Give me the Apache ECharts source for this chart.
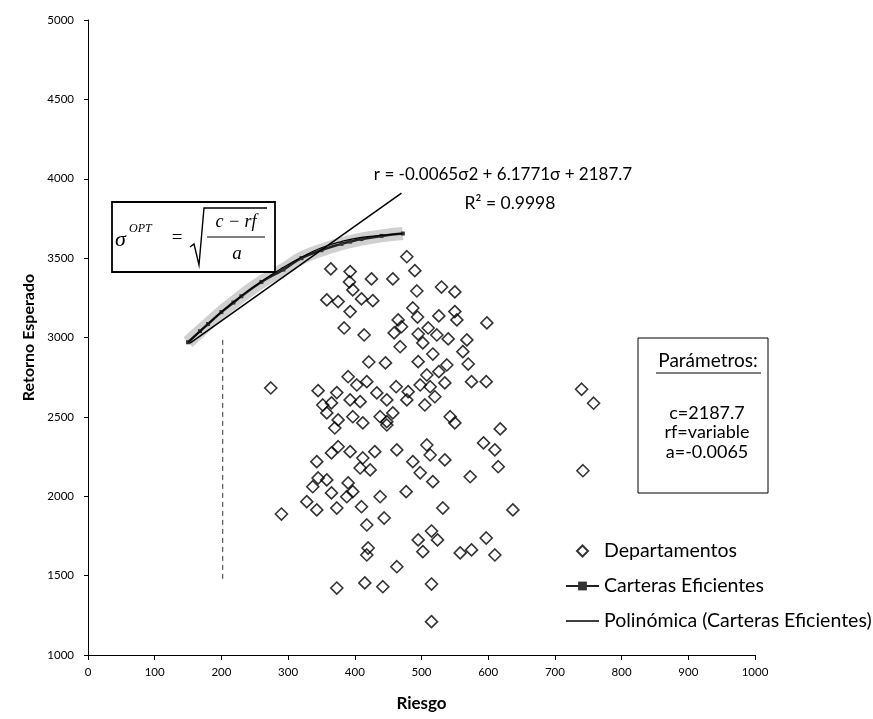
<!DOCTYPE html>
<html>
<head>
<meta charset="utf-8">
<script src="https://cdn.jsdelivr.net/npm/echarts/dist/echarts.min.js"></script>
<style>
html,body{margin:0;padding:0;background:#fff;}
#chart{width:873px;height:719px;}
</style>
</head>
<body>
<div id="chart"></div>
<script>
// ---- Data ----
const xTicks = [0,100,200,300,400,500,600,700,800,900,1000];
const yTicks = [1000,1500,2000,2500,3000,3500,4000,4500,5000];

// Departamentos (riesgo, retorno)
const deptRisk = [
 478,490,364,393,425,457,392,397,493,530,550,358,375,410,427,393,487,494,526,550,
 553,598,384,414,465,470,459,495,510,523,540,568,502,562,517,468,421,446,495,538,
 570,508,526,575,597,274,345,390,403,418,373,433,462,480,498,513,505,520,535,352,
 365,408,393,448,478,358,375,397,412,438,448,457,543,550,
 370,448,375,365,343,393,412,430,463,508,513,487,498,535,517,593,610,573,610,408,
 423,345,358,337,390,365,397,388,328,343,373,410,438,477,532,290,418,444,515,495,
 524,502,420,418,597,558,575,463,373,415,442,515,515,
 740,758,618,615,742,637
];
const deptReturn = [
 3509,3421,3432,3415,3369,3369,3350,3300,3293,3318,3287,3237,3226,3243,3232,3163,3186,3129,3136,3163,
 3111,3092,3060,3016,3111,3068,3029,3022,3060,3016,2991,2985,2966,2911,2896,2942,2846,2840,2848,2827,
 2833,2764,2785,2722,2722,2682,2665,2753,2701,2722,2653,2651,2690,2659,2701,2690,2575,2627,2714,2575,
 2588,2596,2607,2607,2607,2525,2481,2501,2462,2501,2470,2525,2501,2462,
 2430,2449,2312,2273,2218,2281,2241,2281,2292,2323,2260,2218,2148,2229,2092,2336,2292,2123,1630,2178,
 2166,2115,2103,2060,2084,2021,2029,1997,1966,1914,1926,1934,1997,2029,1926,1888,1819,1863,1781,1725,
 1725,1651,1674,1630,1737,1643,1662,1556,1422,1454,1430,1447,1210,
 2674,2586,2424,2186,2161,1914
];

// Carteras Eficientes (frontera)
const frontierRisk   = [150,168,180,200,218,230,260,293,320,350,380,393,410,440,472];
const frontierReturn = [2970,3040,3085,3160,3220,3260,3350,3428,3500,3550,3590,3604,3620,3640,3655];

// Polinómica (Carteras Eficientes) - línea de tendencia
const trendRisk   = [150,180,200,230,260,290,320,350,380,410,440,472];
const trendReturn = [2968,3085,3161,3262,3353,3434,3505,3565,3605,3631,3643,3655];

// Recta trazada (tangente) y línea vertical punteada
const lineRisk   = [153,470];
const lineReturn = [2964,3909];
const vRisk   = [202,202];
const vReturn = [2985,1480];

const eqText = 'r = -0.0065σ2 + 6.1771σ + 2187.7';
const r2Text = 'R² = 0.9998';
const paramTitle = 'Parámetros:';
const paramLines = ['c=2187.7','rf=variable','a=-0.0065'];

const zip = (a,b) => a.map((v,i)=>[v,b[i]]);

const chart = echarts.init(document.getElementById('chart'), null, {renderer:'canvas'});
const FONT = 'Lato, "Open Sans", sans-serif';
const SERIF = '"Liberation Serif", "DejaVu Serif", serif';

const option = {
  backgroundColor:'#fff',
  animation:false,
  grid:{left:88,right:118,top:20,bottom:64,containLabel:false,outerBoundsMode:'none'},
  xAxis:{
    type:'value',min:0,max:1000,interval:100,
    name:'Riesgo',nameLocation:'middle',nameGap:40,
    nameTextStyle:{fontFamily:FONT,fontSize:17,fontWeight:'bold',color:'#000'},
    axisLine:{show:true,onZero:false,lineStyle:{color:'#000',width:1}},
    axisTick:{show:true,length:5,lineStyle:{color:'#000'}},
    axisLabel:{color:'#000',fontFamily:FONT,fontSize:11.5,margin:11,
      formatter:v=>xTicks.includes(v)?String(v):''},
    splitLine:{show:false}
  },
  yAxis:{
    type:'value',min:1000,max:5000,interval:500,
    name:'Retorno Esperado',nameLocation:'middle',nameGap:48,nameRotate:90,
    nameTextStyle:{fontFamily:FONT,fontSize:16,fontWeight:'bold',color:'#000'},
    axisLine:{show:true,onZero:false,lineStyle:{color:'#000',width:1}},
    axisTick:{show:true,length:4,lineStyle:{color:'#000'}},
    axisLabel:{color:'#000',fontFamily:FONT,fontSize:11.5,margin:14,
      formatter:v=>yTicks.includes(v)?String(v):''},
    splitLine:{show:false}
  },
  legend:{
    orient:'vertical',left:560,top:536,itemWidth:33,itemHeight:11,itemGap:15,
    textStyle:{fontFamily:FONT,fontSize:19.5,color:'#000'},
    data:[
      {name:'Departamentos',icon:'path://M5,0L10,5L5,10L0,5Z'},
      {name:'Carteras Eficientes'},
      {name:'Polinómica (Carteras Eficientes)',icon:'path://M0,0L33,0L33,1.3L0,1.3Z',itemStyle:{color:'#000'}}
    ]
  },
  series:[
    {
      name:'band',type:'line',data:zip(frontierRisk,frontierReturn),
      symbol:'none',smooth:true,silent:true,z:1,
      lineStyle:{color:'rgba(150,150,150,0.45)',width:13}
    },
    {
      name:'Carteras Eficientes',type:'line',data:zip(frontierRisk,frontierReturn),
      symbol:'rect',symbolSize:4,smooth:true,z:3,
      itemStyle:{color:'#333'},
      lineStyle:{color:'#222',width:2.5}
    },
    {
      name:'Polinómica (Carteras Eficientes)',type:'line',data:zip(trendRisk,trendReturn),
      symbol:'none',smooth:true,z:4,
      itemStyle:{color:'#000'},
      lineStyle:{color:'#000',width:1.2}
    },
    {
      name:'tangente',type:'line',data:zip(lineRisk,lineReturn),
      symbol:'none',silent:true,z:4,
      lineStyle:{color:'#000',width:1.5}
    },
    {
      name:'vertical',type:'line',data:zip(vRisk,vReturn),
      symbol:'none',silent:true,z:2,
      lineStyle:{color:'#333',width:1,type:[5,4]}
    },
    {
      name:'Departamentos',type:'scatter',data:zip(deptRisk,deptReturn),
      symbol:'diamond',symbolSize:12,z:5,
      itemStyle:{color:'rgba(255,255,255,0)',borderColor:'#000',borderWidth:1.6}
    }
  ],
  graphic:[
    // equation label
    {type:'text',z:10,style:{x:503,y:175,text:eqText,font:'17px '+FONT,fill:'#000',textAlign:'center',textVerticalAlign:'middle'}},
    {type:'text',z:10,style:{x:510,y:203,text:r2Text,font:'17.5px '+FONT,fill:'#000',textAlign:'center',textVerticalAlign:'middle'}},
    // formula box
    {type:'rect',z:10,shape:{x:112,y:202,width:163,height:70},style:{fill:'#fff',stroke:'#000',lineWidth:1.8}},
    {type:'text',z:11,style:{x:115,y:240,text:'σ',font:'italic 22px '+SERIF,fill:'#000',textVerticalAlign:'middle'}},
    {type:'text',z:11,style:{x:129,y:229,text:'OPT',font:'italic 12px '+SERIF,fill:'#000',textVerticalAlign:'middle'}},
    {type:'text',z:11,style:{x:177,y:238,text:'=',font:'19px '+SERIF,fill:'#000',textAlign:'center',textVerticalAlign:'middle'}},
    {type:'polyline',z:11,shape:{points:[[190,247],[194,244],[199,265],[204,208],[267,208]]},style:{stroke:'#000',lineWidth:1.4,fill:null}},
    {type:'text',z:11,style:{x:236,y:222,text:'c − rf',font:'italic 18px '+SERIF,fill:'#000',textAlign:'center',textVerticalAlign:'middle'}},
    {type:'line',z:11,shape:{x1:207,y1:237,x2:265,y2:237},style:{stroke:'#000',lineWidth:1.2}},
    {type:'text',z:11,style:{x:237,y:254,text:'a',font:'italic 19px '+SERIF,fill:'#000',textAlign:'center',textVerticalAlign:'middle'}},
    // parameters box
    {type:'rect',z:10,shape:{x:638,y:338,width:130,height:155},style:{fill:'#fff',stroke:'#000',lineWidth:1}},
    {type:'text',z:11,style:{x:708,y:361,text:paramTitle,font:'19px '+FONT,fill:'#000',textAlign:'center',textVerticalAlign:'middle'}},
    {type:'line',z:11,shape:{x1:656,y1:373,x2:761,y2:373},style:{stroke:'#000',lineWidth:1}},
    {type:'text',z:11,style:{x:707,y:413,text:paramLines[0],font:'18px '+FONT,fill:'#000',textAlign:'center',textVerticalAlign:'middle'}},
    {type:'text',z:11,style:{x:707,y:432,text:paramLines[1],font:'18px '+FONT,fill:'#000',textAlign:'center',textVerticalAlign:'middle'}},
    {type:'text',z:11,style:{x:707,y:452,text:paramLines[2],font:'18px '+FONT,fill:'#000',textAlign:'center',textVerticalAlign:'middle'}}
  ]
};
chart.setOption(option);
</script>
</body>
</html>
